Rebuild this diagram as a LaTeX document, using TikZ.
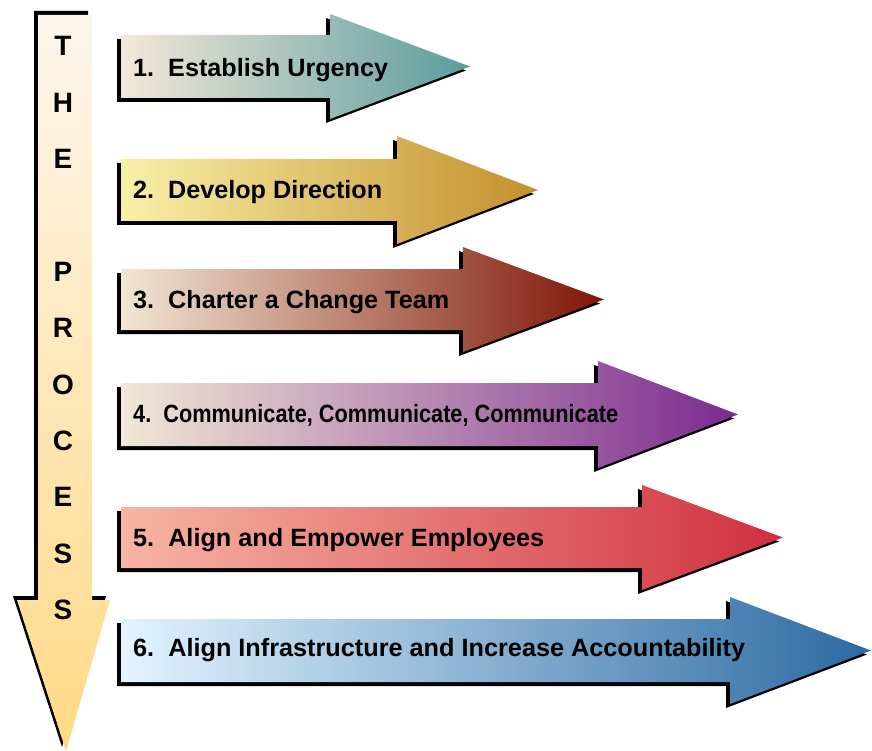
\documentclass[tikz,border=0pt]{standalone}
\usepackage{fontspec}
\setmainfont{Liberation Sans}
\usepackage{graphicx}
\definecolor{vtop}{HTML}{FDF6EC}
\definecolor{vbot}{HTML}{FFD985}
\definecolor{aL1}{HTML}{F3E8D8}\definecolor{aR1}{HTML}{5B9C9E}
\definecolor{aL2}{HTML}{F8F0A8}\definecolor{aR2}{HTML}{C48F2C}
\definecolor{aL3}{HTML}{F2E6D4}\definecolor{aR3}{HTML}{7F1505}
\definecolor{aL4}{HTML}{F2E8D6}\definecolor{aR4}{HTML}{7B2A8E}
\definecolor{aL5}{HTML}{F7B5A3}\definecolor{aR5}{HTML}{CF3040}
\definecolor{aL6}{HTML}{E2F4FF}\definecolor{aR6}{HTML}{2C6AA2}
\tikzset{
  lbl/.style={anchor=base west, inner sep=0pt, font=\bfseries\fontsize{25}{25}\selectfont},
  vlet/.style={inner sep=0pt, font=\bfseries\fontsize{28}{28}\selectfont},
  shadowfill/.style={fill=black},
}
% #1 top, #2 bottom, #3 head base x, #4 head top, #5 head bottom, #6 tip x
\newcommand\harrowpath[6]{(121,#1) -- (#3,#1) -- (#3,#4) -- (#6,{(#1+#2)/2}) -- (#3,#5) -- (#3,#2) -- (121,#2) -- cycle}
% #7 left colour, #8 right colour
\newcommand\procarrow[8]{%
  \fill[shadowfill, shift={(-4,4)}] \harrowpath{#1}{#2}{#3}{#4}{#5}{#6};
  \shade[left color=#7, right color=#8] \harrowpath{#1}{#2}{#3}{#4}{#5}{#6};
}
\begin{document}
\begin{tikzpicture}[x=1pt,y=-1pt]
\useasboundingbox (0,0) rectangle (872,751);
% vertical arrow
\newcommand\vpath{(38,15) -- (92,15) -- (92,600) -- (110,600) -- (66,751) -- (17,600) -- (38,600) -- cycle}
\fill[shadowfill, shift={(-4,-4)}] \vpath;
\shade[top color=vtop, bottom color=vbot] \vpath;
\foreach \ch [count=\i from 0] in {T,H,E,{},P,R,O,C,E,S,S}{
  \node[vlet] (v\i) at (63,{46+56.4*\i}) {\ch};
}
% horizontal arrows
\procarrow{35}{98}{330}{14}{119}{470}{aL1}{aR1}
\procarrow{159}{221}{397}{136}{244}{538}{aL2}{aR2}
\procarrow{269}{330}{463}{247}{352}{604}{aL3}{aR3}
\procarrow{383}{446}{598}{361}{468}{738}{aL4}{aR4}
\procarrow{507}{568}{642}{485}{590}{783}{aL5}{aR5}
\procarrow{619}{682}{730}{597}{704}{871}{aL6}{aR6}
\node[lbl] (t1) at (133,77) {\resizebox{255pt}{\height}{1.\ \ Establish Urgency}};
\node[lbl] (t2) at (133,199) {\resizebox{249pt}{\height}{2.\ \ Develop Direction}};
\node[lbl] (t3) at (133,308) {\resizebox{316pt}{\height}{3.\ \ Charter a Change Team}};
\node[lbl] (t4) at (133,422) {\resizebox{485pt}{\height}{4.\ \ Communicate, Communicate, Communicate}};
\node[lbl] (t5) at (133,546) {\resizebox{411pt}{\height}{5.\ \ Align and Empower Employees}};
\node[lbl] (t6) at (133,656) {\resizebox{612pt}{\height}{6.\ \ Align Infrastructure and Increase Accountability}};
\end{tikzpicture}
\end{document}
